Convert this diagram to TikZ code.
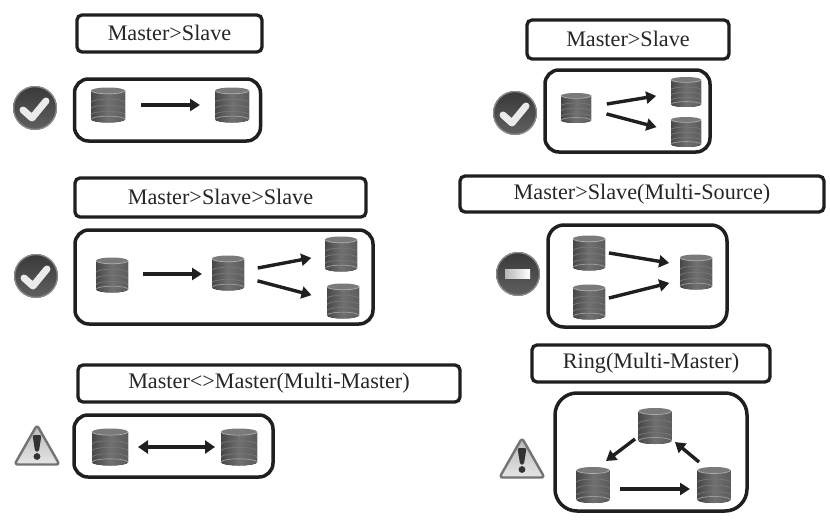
\documentclass[tikz,border=0pt]{standalone}
\usepackage{fontspec}
\setmainfont{Liberation Serif}
\usetikzlibrary{arrows.meta,shapes.geometric,calc}
\definecolor{ink}{gray}{0.12}
\tikzset{
  x=1pt,y=-1pt,
  titlebox/.style={draw=ink,line width=3.3pt,rounded corners=5pt,inner sep=0pt,font=\fontsize{22.2}{26}\selectfont,text=black!85},
  framebox/.style={draw=ink,line width=3.5pt,rounded corners=14pt,inner sep=0pt},
  dbspot/.style={inner sep=0pt,outer sep=0pt},
  link/.style={draw=ink,line width=3.4pt,-{Triangle[length=10pt,width=12pt]}},
  biglink/.style={draw=ink,line width=3.4pt,{Triangle[length=10pt,width=13pt]}-{Triangle[length=10pt,width=13pt]}},
  iconspot/.style={inner sep=0pt,outer sep=0pt,minimum size=44pt,circle},
}
% \dbcyl{name}{x}{y}{width}{height}
\newcommand{\dbcyl}[5]{%
  \node[dbspot,minimum width=#4pt,minimum height=#5pt] (#1) at (#2,#3) {};
  \begin{scope}[shift={(#2,#3)}]
    \pgfmathsetmacro{\hw}{#4/2}\pgfmathsetmacro{\hh}{#5/2}\pgfmathsetmacro{\ry}{#5*0.09}
    \fill[left color=black!72,right color=black!64,middle color=black!56]
      (-\hw,-\hh+\ry) arc[x radius=\hw,y radius=\ry,start angle=180,end angle=0]
      -- (\hw,\hh-\ry) arc[x radius=\hw,y radius=\ry,start angle=0,end angle=180] -- cycle;
    \foreach \f in {-0.15,0.2,0.55}{
      \draw[black!54,line width=0.8pt] (-\hw,\f*\hh) arc[x radius=\hw,y radius=\ry,start angle=180,end angle=360];
    }
    \draw[black!40,line width=0.8pt] (-\hw,\hh-\ry) arc[x radius=\hw,y radius=\ry,start angle=180,end angle=360];
    \fill[black!52] (0,-\hh+\ry) ellipse[x radius=\hw,y radius=\ry];
    \draw[black!32,line width=0.7pt] (-\hw,-\hh+\ry) arc[x radius=\hw,y radius=\ry,start angle=180,end angle=0];
  \end{scope}}
\newcommand{\ballbase}[3]{%
  \node[iconspot] (#1) at (#2,#3) {};
  \shade[top color=black!78,bottom color=black!62] (#2,#3) circle[radius=22];
  \draw[black!45,line width=1.2pt] (#2,#3) circle[radius=21.4];}
\newcommand{\checkicon}[3]{%
  \ballbase{#1}{#2}{#3}
  \draw[white!92!black,line width=7pt,line cap=round,line join=round]
    ($(#2,#3)+(-12,2)$) -- ($(#2,#3)+(-3,10)$) -- ($(#2,#3)+(11,-7)$);}
\newcommand{\minusicon}[3]{%
  \ballbase{#1}{#2}{#3}
  \shade[left color=white!72!black,right color=white] ($(#2,#3)+(-13,-4.5)$) rectangle ($(#2,#3)+(12,4.5)$);}
\newcommand{\warnicon}[3]{%
  \node[iconspot] (#1) at (#2,#3) {};
  \begin{scope}[shift={(#2,#3)}]
    \shade[top color=black!28,bottom color=black!10,draw=black!55,line width=2.4pt,line join=round,rounded corners=3pt]
      (0,-20) -- (22.5,19.5) -- (-22.5,19.5) -- cycle;
    \fill[black!80,rounded corners=2pt] (-4.5,-10) -- (4.5,-10) -- (1.8,7) -- (-1.8,7) -- cycle;
    \fill[black!80] (0,11.5) circle[radius=3.4];
  \end{scope}}
\begin{document}
\begin{tikzpicture}
\useasboundingbox (0,0) rectangle (830,530);
\fill[white] (0,0) rectangle (830,530);
% title boxes
\node[titlebox,minimum width=185pt,minimum height=37pt] (t1) at (169.5,33.5) {\raisebox{2pt}{Master>Slave}};
\node[titlebox,minimum width=202pt,minimum height=39pt] (t2) at (628,39.5) {\raisebox{2pt}{Master>Slave}};
\node[titlebox,minimum width=291pt,minimum height=39pt] (t3) at (220.5,197.5) {\raisebox{1pt}{Master>Slave>Slave}};
\node[titlebox,minimum width=364pt,minimum height=36pt] (t4) at (642,194) {\raisebox{1pt}{Master>Slave(Multi-Source)}};
\node[titlebox,minimum width=382pt,minimum height=37pt] (t5) at (269,383.5) {\raisebox{1pt}{Master<>Master(Multi-Master)}};
\node[titlebox,minimum width=238pt,minimum height=37pt] (t6) at (651,363.5) {\raisebox{1pt}{Ring(Multi-Master)}};
% frames
\node[framebox,minimum width=186pt,minimum height=62pt] (f1) at (167.5,110) {};
\node[framebox,minimum width=165pt,minimum height=82pt] (f2) at (627.5,111) {};
\node[framebox,minimum width=298pt,minimum height=94pt] (f3) at (224,277) {};
\node[framebox,rounded corners=16pt,minimum width=179pt,minimum height=102pt] (f4) at (637.5,276) {};
\node[framebox,minimum width=199pt,minimum height=62pt] (f5) at (173.5,446) {};
\node[framebox,rounded corners=22pt,minimum width=192pt,minimum height=118pt] (f6) at (651,452) {};
% cylinders
\dbcyl{a1}{108}{105}{34}{35}
\dbcyl{a2}{232}{105}{34}{35}
\dbcyl{b1}{576}{108}{30}{30}
\dbcyl{b2}{686}{92}{30}{30}
\dbcyl{b3}{686}{132}{30}{30}
\dbcyl{c1}{112}{275}{32}{35}
\dbcyl{c2}{228}{273}{32}{35}
\dbcyl{c3}{341}{254}{32}{35}
\dbcyl{c4}{343}{301}{32}{35}
\dbcyl{d1}{589}{253}{32}{35}
\dbcyl{d2}{589}{302}{32}{35}
\dbcyl{d3}{696}{272}{32}{35}
\dbcyl{e1}{110}{447}{36}{37}
\dbcyl{e2}{239}{447}{36}{37}
\dbcyl{g1}{655}{426}{33}{36}
\dbcyl{g2}{593}{485}{33}{36}
\dbcyl{g3}{714}{485}{33}{36}
% connectors
\draw[link,shorten <=16pt,shorten >=15pt] (a1.east) -- (a2.west);
\draw[link,shorten <=16pt,shorten >=15pt] ([yshift=1.4pt]b1.east) -- ([yshift=-1.5pt]b2.west);
\draw[link,shorten <=16pt,shorten >=15pt] ([yshift=-1.8pt]b1.east) -- ([yshift=1pt]b3.west);
\draw[link,shorten <=15pt,shorten >=10pt] ([yshift=1pt]c1.east) -- ([yshift=-1pt]c2.west);
\draw[link,shorten <=14pt,shorten >=14pt] ([yshift=2.4pt]c2.east) -- ([yshift=-1.3pt]c3.west);
\draw[link,shorten <=14pt,shorten >=16pt] ([yshift=-4.3pt]c2.east) -- ([yshift=1.8pt]c4.west);
\draw[link,shorten <=4pt,shorten >=11pt] ([yshift=0.7pt]d1.east) -- ([yshift=7.2pt]d3.west);
\draw[link,shorten <=4pt,shorten >=11pt] ([yshift=3pt]d2.east) -- ([yshift=-8.3pt]d3.west);
\draw[biglink,shorten <=10pt,shorten >=6pt] (e1.east) -- (e2.west);
\draw[link] ([xshift=-3.5pt,yshift=5pt]g1.south west) -- ([xshift=-3.5pt,yshift=6pt]g2.north east);
\draw[link,shorten <=10.5pt,shorten >=7.5pt] ([yshift=-4pt]g2.east) -- ([yshift=-4pt]g3.west);
\draw[link] ([xshift=-15pt,yshift=5pt]g3.north) -- ([xshift=3.5pt,yshift=2pt]g1.south east);
% status icons
\checkicon{i1}{35}{108}
\checkicon{i2}{515}{113}
\checkicon{i3}{36}{276}
\minusicon{i4}{518}{274}
\warnicon{i5}{37}{445}
\warnicon{i6}{522}{458}
\end{tikzpicture}
\end{document}
